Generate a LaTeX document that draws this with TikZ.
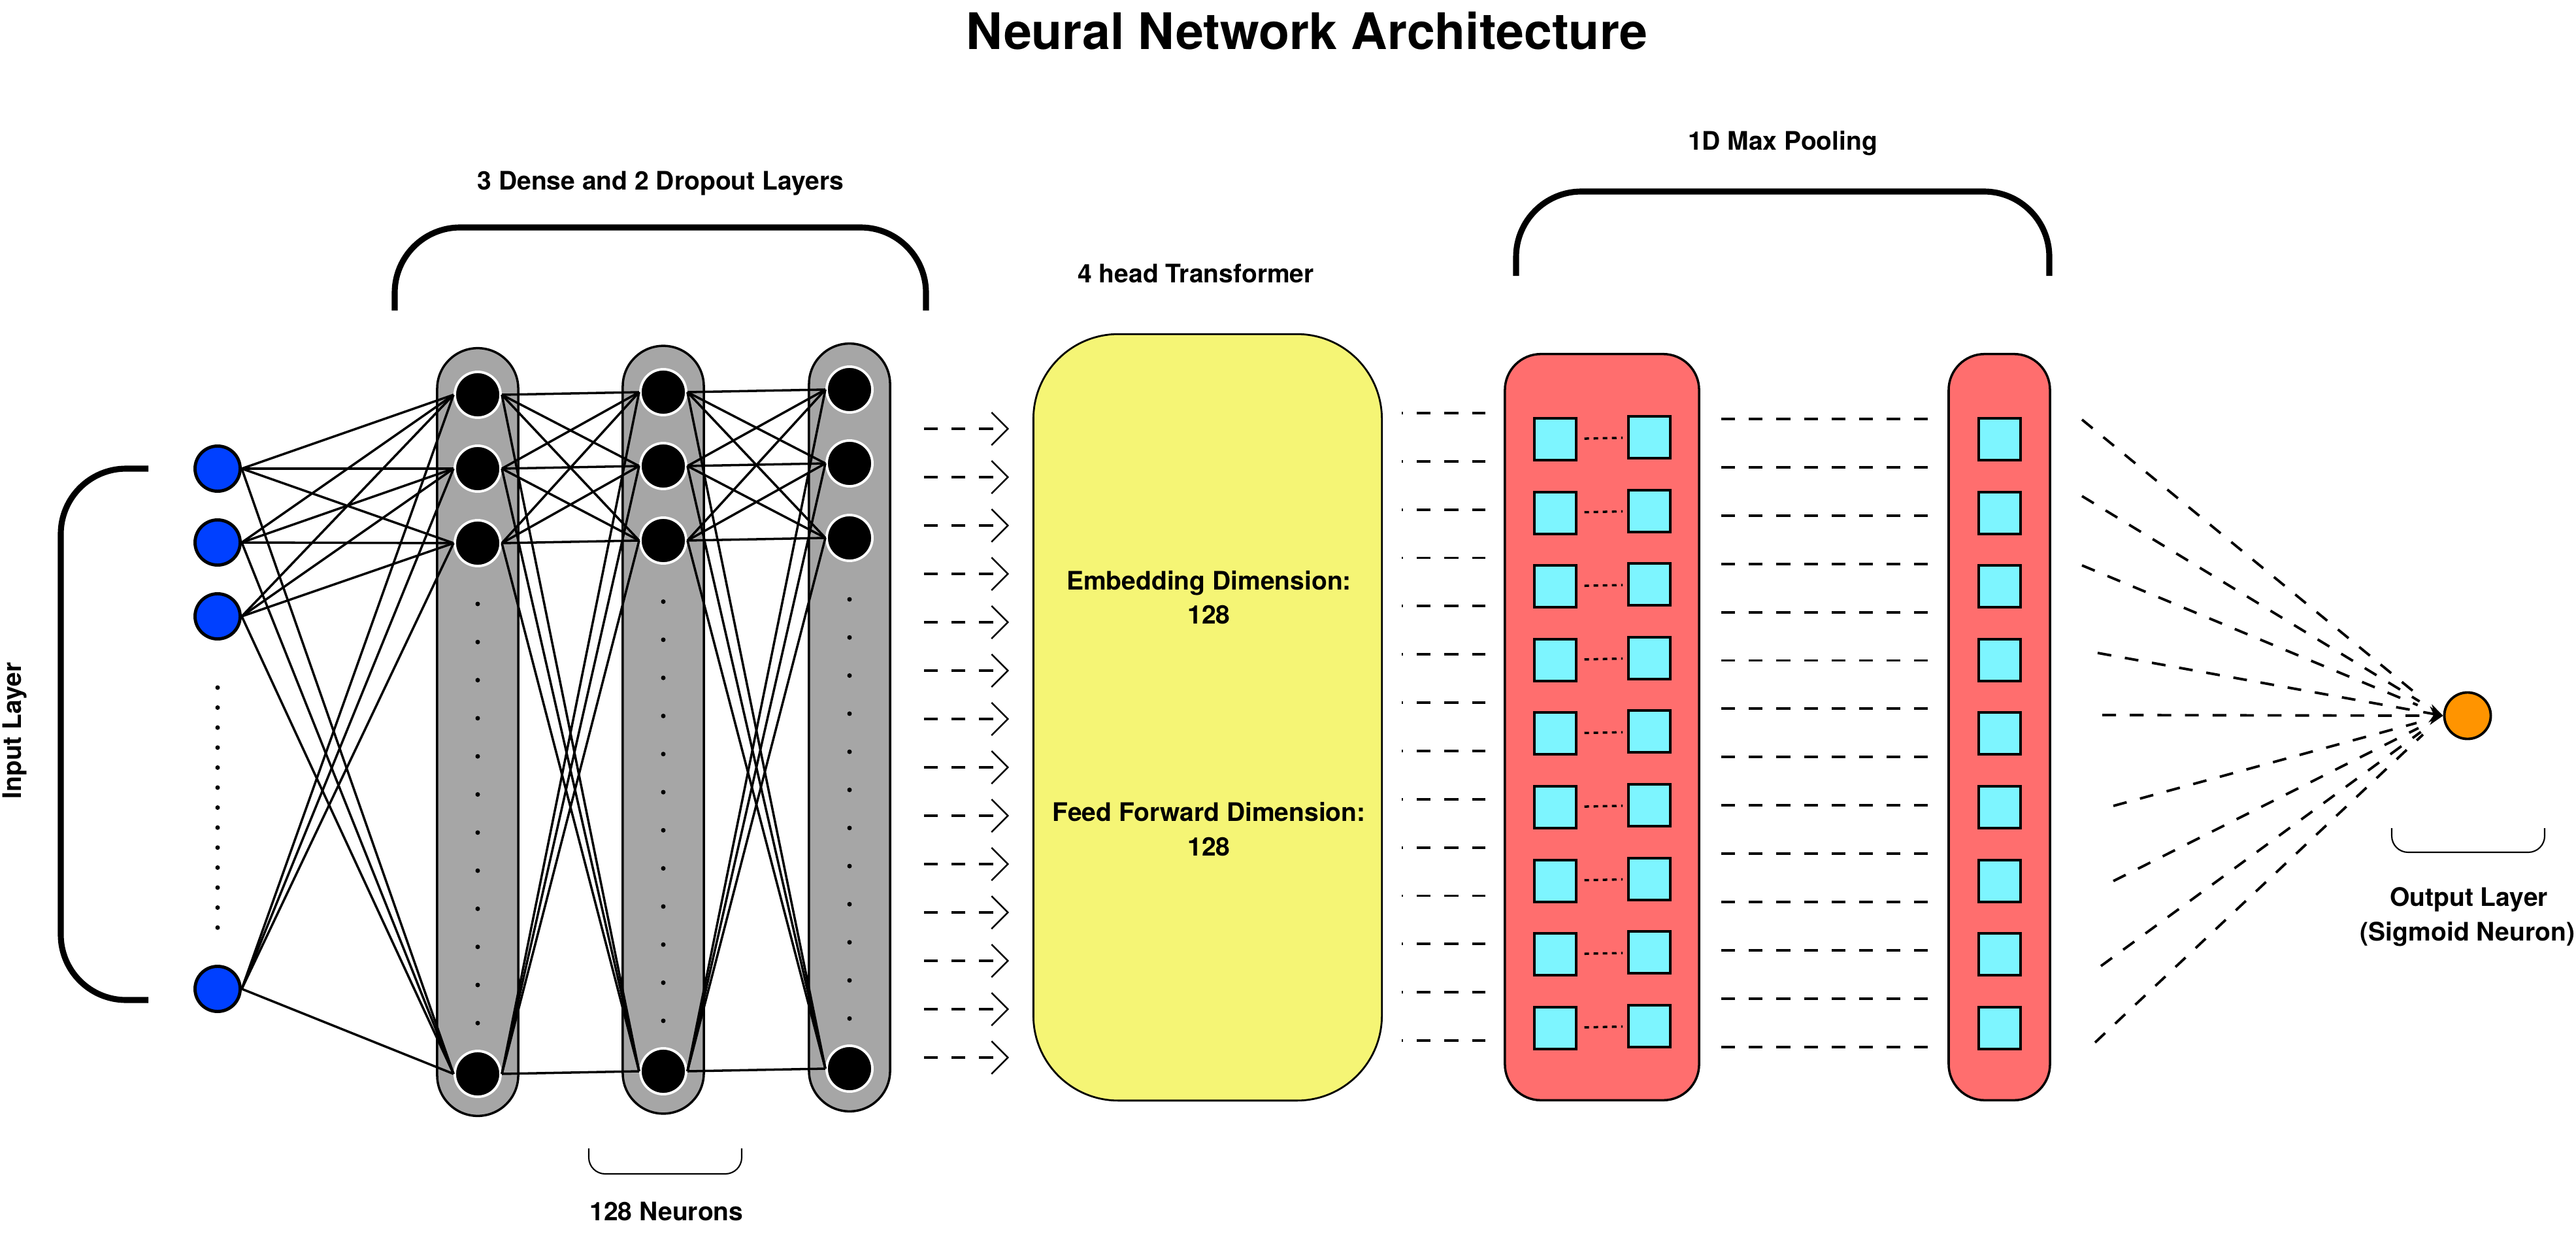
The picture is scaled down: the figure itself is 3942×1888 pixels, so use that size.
\documentclass[tikz,border=0pt]{standalone}
\usepackage{fontspec}
\setmainfont{TeX Gyre Heros}
\usepackage{tikz}
\usepackage{xcolor}
\usetikzlibrary{arrows.meta, positioning}

\definecolor{inputblue}{RGB}{0,64,255}
\definecolor{colgray}{RGB}{166,166,166}
\definecolor{transyellow}{RGB}{245,245,117}
\definecolor{poolred}{RGB}{255,110,110}
\definecolor{cellcyan}{RGB}{125,245,255}
\definecolor{outorange}{RGB}{255,148,0}

\begin{document}
\begin{tikzpicture}[
    x=0.01cm, y=-0.01cm,
    heading/.style={font=\bfseries\fontsize{21.9}{26}\selectfont, inner sep=0pt, anchor=base},
    lbl/.style={font=\bfseries\fontsize{11.1}{14.8}\selectfont, inner sep=0pt, anchor=base},
    densecol/.style={rectangle, draw, line width=1pt, fill=colgray, minimum width=1.24cm, minimum height=11.74cm, rounded corners=0.62cm},
    inneuron/.style={circle, draw, line width=1.4pt, fill=inputblue, minimum size=0.69cm, inner sep=0pt},
    hidneuron/.style={circle, draw=white, line width=1.1pt, fill=black, minimum size=0.70cm, inner sep=0pt},
    outneuron/.style={circle, draw, line width=1.1pt, fill=outorange, minimum size=0.71cm, inner sep=0pt},
    transbox/.style={rectangle, draw, line width=0.8pt, fill=transyellow, minimum width=5.33cm, minimum height=11.72cm, rounded corners=1.3cm},
    poolbox/.style={rectangle, draw, line width=1pt, fill=poolred, minimum height=11.41cm, rounded corners=0.55cm},
    cell/.style={rectangle, draw, line width=1.1pt, fill=cellcyan, minimum size=0.64cm, inner sep=0pt},
    link/.style={line width=1pt},
    dotlink/.style={line width=1pt, dash pattern=on 2pt off 2pt, shorten <=3pt, shorten >=2pt},
    dashline/.style={line width=1.1pt, dash pattern=on 6pt off 6pt},
    flowarrow/.style={dashline, -{Straight Barb[length=0.25cm, width=0.5cm, line width=0.7pt]}},
    fanarrow/.style={dashline, -{Stealth[length=0.2cm, width=0.28cm]}},
    bigbrace/.style={line width=2.6pt, rounded corners=1cm},
    smallbrace/.style={line width=0.6pt, rounded corners=0.25cm}
]
\useasboundingbox (0,0) rectangle (3942,1888);

\node[heading] (title) at (2000,76) {Neural Network Architecture};

\foreach \i/\ny in {1/717, 2/830, 3/943, 4/1513}
    \node[inneuron] (in\i) at (333,\ny) {};
\foreach \n in {0,...,12}
    \fill (333,{1052+30.6*\n}) circle[radius=0.035cm];

\foreach \k/\cx in {1/731, 2/1015, 3/1300} {
    \node[densecol] (dense\k) at (\cx,{1120-3.5*(\k-1)}) {};
    \foreach \n in {0,...,11}
        \fill (\cx,{924-3.5*(\k-1)+58.3*\n}) circle[radius=0.035cm];
    \foreach \j/\ny in {1/604, 2/717, 3/831, 4/1643}
        \node[hidneuron] (d\k-\j) at (\cx,{\ny-4*(\k-1)}) {};
}

\foreach \i in {1,...,4}
    \foreach \j in {1,...,4}
        \draw[link] (in\i.east) -- (d1-\j.west);
\foreach \k/\l in {1/2, 2/3}
    \foreach \i in {1,...,4}
        \foreach \j in {1,...,4}
            \draw[link] (d\k-\i.east) -- (d\l-\j.west);

\draw[bigbrace] (227,717) -- (93,717) -- (93,1530) -- (227,1530);
\node[lbl, rotate=90] (inputlbl) at (32,1118) {Input Layer};

\draw[bigbrace] (604,475) -- (604,348) -- (1417,348) -- (1417,475);
\node[lbl] (denselbl) at (1011,291) {3 Dense and 2 Dropout Layers};

\draw[smallbrace] (901,1757) -- (901,1796) -- (1135,1796) -- (1135,1757);
\node[lbl] (neuronlbl) at (1020,1867) {128 Neurons};

\foreach \n in {0,...,13}
    \draw[flowarrow] (1414,{656+74*\n}) -- (1544,{656+74*\n});

\node[transbox] (trans) at (1848,1097.5) {};
\node[lbl] (translbl) at (1830,432) {4 head Transformer};
\node[lbl] (embed) at (1850,902) {Embedding Dimension:};
\node[lbl] (embedval) at (1850,954) {128};
\node[lbl] (feed) at (1850,1256) {Feed Forward Dimension:};
\node[lbl] (feedval) at (1850,1309) {128};

\foreach \n in {0,...,13}
    \draw[dashline, dash phase=5.4pt] (2145,{632+73.85*\n}) -- (2273,{632+73.85*\n});

\node[poolbox, minimum width=2.97cm] (pool) at (2451.5,1112.5) {};
\node[poolbox, minimum width=1.55cm] (poolout) at (3059.5,1112.5) {};
\foreach \r in {1,...,9} {
    \node[cell] (pa\r) at (2380,{672+112.6*(\r-1)}) {};
    \node[cell] (pb\r) at (2524,{669+112.6*(\r-1)}) {};
    \node[cell] (pc\r) at (3060,{672+112.6*(\r-1)}) {};
    \draw[dotlink] (pa\r) -- (pb\r);
}

\foreach \n in {0,...,13}
    \draw[dashline] (2634,{641+73.9*\n}) -- (2950,{641+73.9*\n});

\draw[bigbrace] (2320,422) -- (2320,293) -- (3136,293) -- (3136,422);
\node[lbl] (poollbl) at (2728,230) {1D Max Pooling};

\node[outneuron] (out) at (3776,1095) {};
\foreach \sx/\sy in {3186/642, 3186/759, 3186/865, 3234/1233, 3234/1348, 3215/1478, 3206/1595}
    \draw[dashline, shorten >=0.42cm] (\sx,\sy) -- (out.west);
\foreach \sx/\sy in {3210/999, 3217/1094}
    \draw[fanarrow] (\sx,\sy) -- (out.west);

\draw[smallbrace] (3660,1267) -- (3660,1304) -- (3894,1304) -- (3894,1267);
\node[lbl] (outlbl) at (3778,1386) {Output Layer};
\node[lbl] (sigmoidlbl) at (3776,1439) {(Sigmoid Neuron)};

\end{tikzpicture}
\end{document}
